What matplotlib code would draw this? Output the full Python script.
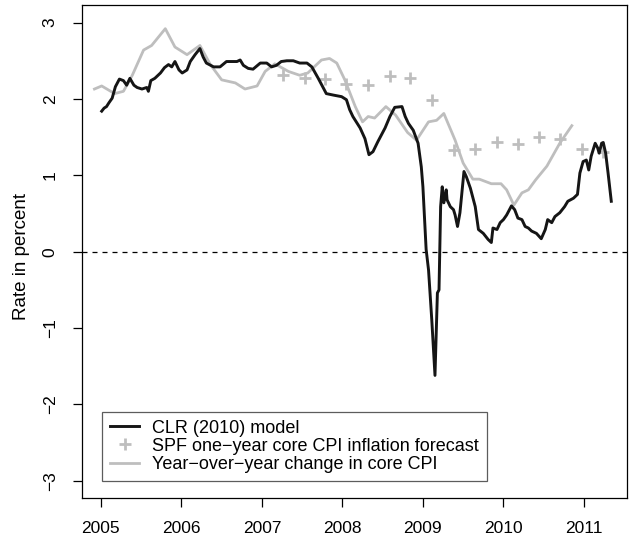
import matplotlib
matplotlib.use("Agg")
import matplotlib.pyplot as plt

plt.rcParams['font.family'] = ['Liberation Sans', 'DejaVu Sans']

# CLR (2010) model
clr_x = [2005.01, 2005.04, 2005.07, 2005.10, 2005.14, 2005.18, 2005.23, 2005.28, 2005.32, 2005.36,
         2005.41, 2005.45, 2005.51, 2005.57, 2005.59, 2005.62, 2005.67, 2005.74, 2005.79, 2005.84,
         2005.88, 2005.92, 2005.97, 2006.01, 2006.07, 2006.11, 2006.17, 2006.23, 2006.27, 2006.31,
         2006.40, 2006.48, 2006.56, 2006.69, 2006.73, 2006.77, 2006.83, 2006.89, 2006.98, 2007.06,
         2007.12, 2007.18, 2007.24, 2007.31, 2007.39, 2007.47, 2007.56, 2007.62, 2007.70, 2007.80,
         2007.89, 2007.99, 2008.05, 2008.09, 2008.13, 2008.22, 2008.28, 2008.33, 2008.38, 2008.44,
         2008.53, 2008.59, 2008.65, 2008.74, 2008.78, 2008.82, 2008.88, 2008.94, 2008.98, 2009.00,
         2009.04, 2009.07, 2009.11, 2009.15, 2009.18, 2009.20, 2009.22, 2009.24, 2009.26, 2009.29,
         2009.30, 2009.34, 2009.38, 2009.40, 2009.43, 2009.46, 2009.51, 2009.54, 2009.59, 2009.65,
         2009.69, 2009.75, 2009.81, 2009.85, 2009.87, 2009.92, 2009.96, 2010.00, 2010.04, 2010.10,
         2010.14, 2010.18, 2010.23, 2010.27, 2010.31, 2010.35, 2010.41, 2010.47, 2010.52, 2010.55,
         2010.60, 2010.64, 2010.70, 2010.76, 2010.80, 2010.87, 2010.92, 2010.95, 2010.99, 2011.03,
         2011.06, 2011.09, 2011.14, 2011.17, 2011.19, 2011.22, 2011.24, 2011.27, 2011.30, 2011.34]
clr_y = [1.84, 1.88, 1.90, 1.95, 2.01, 2.16, 2.26, 2.24, 2.18, 2.27,
         2.18, 2.15, 2.13, 2.15, 2.10, 2.24, 2.27, 2.34, 2.41, 2.45,
         2.42, 2.49, 2.38, 2.34, 2.38, 2.49, 2.58, 2.66, 2.55, 2.47,
         2.42, 2.42, 2.49, 2.49, 2.51, 2.44, 2.40, 2.39, 2.47, 2.47,
         2.42, 2.44, 2.49, 2.50, 2.50, 2.47, 2.47, 2.42, 2.27, 2.07,
         2.05, 2.03, 1.99, 1.86, 1.77, 1.62, 1.48, 1.27, 1.31, 1.44,
         1.62, 1.77, 1.89, 1.90, 1.77, 1.68, 1.59, 1.42, 1.11, 0.85,
         0.03, -0.24, -0.89, -1.62, -0.54, -0.50, 0.59, 0.85, 0.64, 0.81,
         0.68, 0.59, 0.55, 0.48, 0.33, 0.51, 1.05, 0.98, 0.83, 0.59,
         0.29, 0.24, 0.16, 0.12, 0.31, 0.29, 0.38, 0.42, 0.48, 0.60,
         0.55, 0.44, 0.42, 0.33, 0.31, 0.27, 0.24, 0.17, 0.29, 0.42,
         0.38, 0.46, 0.51, 0.59, 0.66, 0.70, 0.75, 1.03, 1.18, 1.20,
         1.07, 1.25, 1.42, 1.36, 1.29, 1.42, 1.43, 1.29, 1.03, 0.66]

# SPF one-year core CPI inflation forecast
spf_x = [2007.26, 2007.53, 2007.78, 2008.05, 2008.32, 2008.59, 2008.84, 2009.11,
         2009.38, 2009.65, 2009.92, 2010.18, 2010.44, 2010.70, 2010.97, 2011.24]
spf_y = [2.31, 2.28, 2.26, 2.20, 2.18, 2.30, 2.27, 1.98,
         1.33, 1.34, 1.44, 1.41, 1.50, 1.47, 1.34, 1.31]

# year-over-year change in core CPI
cpi_x = [2004.92, 2005.01, 2005.17, 2005.28, 2005.39, 2005.53, 2005.63, 2005.80, 2005.92, 2006.07,
         2006.23, 2006.36, 2006.50, 2006.67, 2006.79, 2006.94, 2007.04, 2007.16, 2007.33, 2007.47,
         2007.57, 2007.74, 2007.84, 2007.93, 2008.03, 2008.16, 2008.25, 2008.32, 2008.40, 2008.54,
         2008.66, 2008.81, 2008.92, 2009.07, 2009.17, 2009.26, 2009.40, 2009.50, 2009.62, 2009.70,
         2009.85, 2009.97, 2010.04, 2010.13, 2010.23, 2010.31, 2010.40, 2010.54, 2010.70, 2010.85]
cpi_y = [2.13, 2.17, 2.07, 2.10, 2.31, 2.64, 2.70, 2.92, 2.68, 2.58,
         2.70, 2.45, 2.25, 2.21, 2.13, 2.17, 2.36, 2.46, 2.36, 2.31,
         2.34, 2.51, 2.53, 2.47, 2.25, 1.90, 1.70, 1.77, 1.75, 1.90,
         1.79, 1.56, 1.46, 1.70, 1.72, 1.81, 1.46, 1.16, 0.95, 0.95,
         0.89, 0.89, 0.81, 0.61, 0.77, 0.81, 0.94, 1.12, 1.42, 1.65]

years = [2005, 2006, 2007, 2008, 2009, 2010, 2011]
yticks = [-3, -2, -1, 0, 1, 2, 3]

grey = '#bebebe'

fig = plt.figure(figsize=(6.33, 5.39), dpi=100)
ax = fig.add_axes([0.1295, 0.0761, 0.861, 0.9146])

ax.axhline(0, color='black', lw=0.9, linestyle=(0, (4, 4)))
ax.plot(clr_x, clr_y, color='#151515', lw=2.1, label='CLR (2010) model', zorder=3)
ax.plot(spf_x, spf_y, linestyle='none', marker='+', color=grey, ms=8, mew=2.0,
        label='SPF one\u2212year core CPI inflation forecast', zorder=2)
ax.plot(cpi_x, cpi_y, color=grey, lw=2.0,
        label='Year\u2212over\u2212year change in core CPI', zorder=2)

ax.set_xlim(2004.765, 2011.535)
ax.set_ylim(-3.225, 3.23)
ax.set_xticks(years)
ax.set_yticks(yticks)
ax.tick_params(direction='out', length=6.5, width=0.9, labelsize=12.5)
ax.tick_params(axis='x', pad=10)
ax.tick_params(axis='y', labelrotation=90, pad=11)
for lab in ax.get_yticklabels():
    lab.set_va('center')
for s in ax.spines.values():
    s.set_linewidth(0.9)

ax.set_ylabel('Rate in percent', fontsize=13.5)
ax.yaxis.set_label_coords(-0.095, 0.49)

leg = ax.legend(loc='lower left', bbox_to_anchor=(0.0367, 0.0345), borderaxespad=0,
                fontsize=13, frameon=True, fancybox=False, edgecolor='#333333',
                handlelength=1.6, handletextpad=0.7, labelspacing=0.06, borderpad=0.45)
leg.get_frame().set_linewidth(0.9)

fig.savefig('out.png', dpi=100)
